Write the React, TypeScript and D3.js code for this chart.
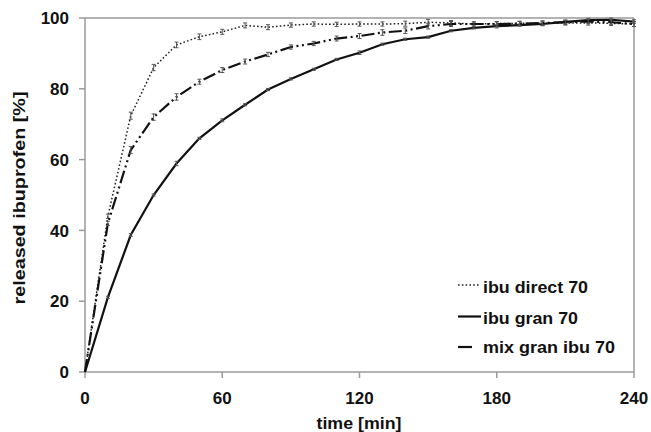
import React from "react";
import * as d3 from "d3";

const times = [0,10,20,30,40,50,60,70,80,90,100,110,120,130,140,150,160,170,180,190,200,210,220,230,240];
const direct = [0,44,72.4,86,92.4,94.7,96.1,97.9,97.4,98.0,98.3,98.2,98.3,98.3,98.4,98.8,98.6,98.3,98.4,98.5,98.5,98.6,98.6,98.5,98.3];
const directErr = [0,0.6,1,0.9,0.8,0.8,0.7,0.7,0.7,0.6,0.6,0.6,0.6,0.6,0.7,0.8,0.7,0.6,0.6,0.6,0.6,0.6,0.6,0.6,0.7];
const gran = [0,21.1,38.7,50,58.9,66,71.1,75.5,79.8,82.8,85.5,88.3,90.2,92.6,94,94.6,96.4,97.2,97.7,98,98.3,98.9,99.4,99.5,99.0];
const granErr = [0,0.3,0.4,0.3,0.6,0.3,0.4,0.3,0.3,0.3,0.3,0.3,0.5,0.3,0.3,0.3,0.3,0.3,0.5,0.3,0.5,0.5,0.5,0.5,0.5];
const mix = [0,42,62.7,72.0,77.7,82.0,85.3,87.7,89.7,91.8,92.8,94.2,94.9,95.9,96.4,97.7,98.3,98.3,98.3,98.4,98.6,98.8,99.0,98.8,98.3];
const mixErr = [0,0.6,1,0.9,0.9,0.7,0.7,0.7,0.6,0.6,0.6,0.7,0.7,0.8,0.8,0.8,0.7,0.6,0.6,0.6,0.6,0.6,0.6,0.7,0.7];
const xTicks = [0,60,120,180,240];
const yTicks = [0,20,40,60,80,100];
const legendLabels = ["ibu direct 70","ibu gran 70","mix gran ibu 70"];

const FONT = "'Liberation Sans', Arial, sans-serif";

export default function App() {
  const W = 651, H = 432;
  const x = d3.scaleLinear().domain([0,240]).range([85,634]);
  const y = d3.scaleLinear().domain([0,100]).range([372,18]);
  const line = d3.line<number>().x((_, i) => x(times[i])).y(d => y(d));

  const series = [
    { vals: direct, err: directErr, dash: "1.6,2.2", width: 1.5, color: "#222" },
    { vals: gran, err: granErr, dash: "none", width: 2.2, color: "#111" },
    { vals: mix, err: mixErr, dash: "13,3.5,2,3.5,2,3.5", width: 2.2, color: "#111" },
  ];
  const axisColor = "#9a9a9a";

  return (
    <div style={{ position: "absolute", left: 0, top: 0 }}>
      <svg width={W} height={H} style={{ display: "block", background: "#fff" }}>
        <line x1={x(0)} x2={x(240)} y1={y(100)} y2={y(100)} stroke={axisColor} strokeWidth={1.5} />
        <line x1={x(240)} x2={x(240)} y1={y(100)} y2={y(0)} stroke={axisColor} strokeWidth={1.5} />
        <line x1={x(0)} x2={x(0)} y1={y(100)} y2={y(0)} stroke={axisColor} strokeWidth={1.5} />
        <line x1={x(0)} x2={x(240)} y1={y(0)} y2={y(0)} stroke={axisColor} strokeWidth={1.5} />
        {yTicks.map(t => (
          <g key={"y"+t}>
            <line x1={x(0)-6} x2={x(0)} y1={y(t)} y2={y(t)} stroke={axisColor} strokeWidth={1.5} />
            <text x={69} y={y(t)} dy="0.36em" textAnchor="end" fontFamily={FONT} fontWeight="bold" fontSize={17} fill="#111">{t}</text>
          </g>
        ))}
        {xTicks.map(t => (
          <g key={"x"+t}>
            <line x1={x(t)} x2={x(t)} y1={y(0)} y2={y(0)+6} stroke={axisColor} strokeWidth={1.5} />
            <text x={x(t)} y={404} textAnchor="middle" fontFamily={FONT} fontWeight="bold" fontSize={17} fill="#111">{t}</text>
          </g>
        ))}
        <text x={359} y={429} textAnchor="middle" fontFamily={FONT} fontWeight="bold" fontSize={17} fill="#111" textLength={85} lengthAdjust="spacingAndGlyphs">time [min]</text>
        <text transform={`translate(25,198) rotate(-90)`} textAnchor="middle" fontFamily={FONT} fontWeight="bold" fontSize={17} fill="#111" textLength={213} lengthAdjust="spacingAndGlyphs">released ibuprofen [%]</text>

        {series.map((s, si) => (
          <g key={"s"+si}>
            <path d={line(s.vals) || ""} fill="none" stroke={s.color} strokeWidth={s.width} strokeDasharray={s.dash} />
            {s.vals.map((v, i) => i === 0 ? null : (
              <g key={i} stroke="#555" strokeWidth={1}>
                <line x1={x(times[i])} x2={x(times[i])} y1={y(v - s.err[i])} y2={y(v + s.err[i])} />
                <line x1={x(times[i])-2} x2={x(times[i])+2} y1={y(v - s.err[i])} y2={y(v - s.err[i])} />
                <line x1={x(times[i])-2} x2={x(times[i])+2} y1={y(v + s.err[i])} y2={y(v + s.err[i])} />
              </g>
            ))}
          </g>
        ))}

        <line x1={458} x2={480} y1={285} y2={285} stroke="#222" strokeWidth={1.5} strokeDasharray="1.6,2.2" />
        <line x1={458} x2={481} y1={316.5} y2={316.5} stroke="#111" strokeWidth={2.2} />
        <line x1={458} x2={472} y1={347} y2={347} stroke="#111" strokeWidth={2.2} />
        {legendLabels.map((l, i) => (
          <text key={l} x={483} y={[293, 324, 353][i]} fontFamily={FONT} fontWeight="bold" fontSize={17} fill="#111" textLength={[105, 95, 132][i]} lengthAdjust="spacingAndGlyphs">{l}</text>
        ))}
      </svg>
    </div>
  );
}
